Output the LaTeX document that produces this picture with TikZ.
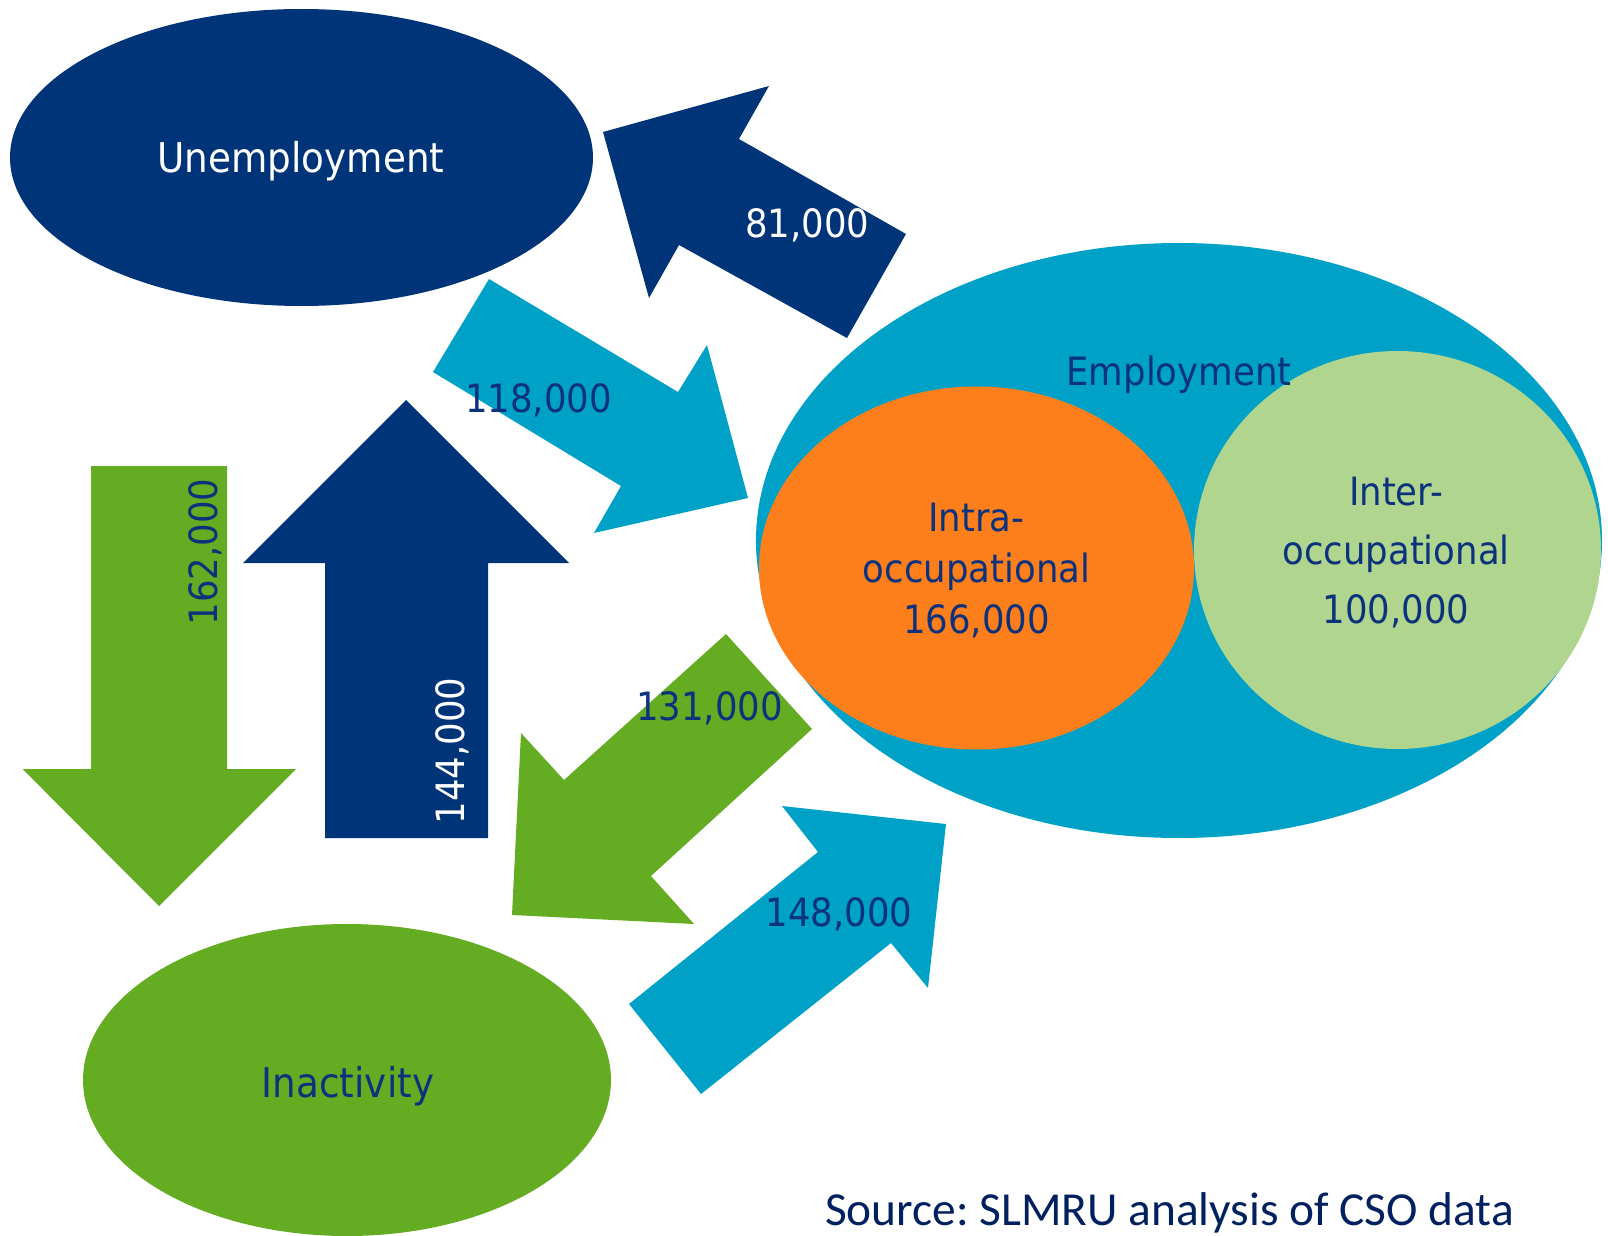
\documentclass[tikz,border=0pt]{standalone}
\usepackage{fontspec}
\usetikzlibrary{shapes.geometric}
\newfontfamily\lab[FakeStretch=0.91]{DejaVu Sans}
\newfontfamily\srcfont{Carlito}
\definecolor{cnavy}{RGB}{0,52,120}
\definecolor{cteal}{RGB}{0,161,199}
\definecolor{cleaf}{RGB}{100,172,33}
\definecolor{corng}{RGB}{253,127,27}
\definecolor{cpale}{RGB}{176,213,143}
\definecolor{ctxt}{RGB}{12,50,125}
\definecolor{csrc}{RGB}{0,32,96}
\frenchspacing
\begin{document}
\begin{tikzpicture}[x=0.5pt,y=-0.5pt,
  blob/.style={ellipse, inner sep=0pt, draw=none},
  lbl/.style={font=\lab\fontsize{19.5pt}{24pt}\selectfont, inner sep=0pt, anchor=base, text=ctxt},
  big/.style={font=\lab\fontsize{20.5pt}{24pt}\selectfont, inner sep=0pt, anchor=base, text=ctxt}]
\useasboundingbox (0,0) rectangle (1608,1236);
% ellipses
\node[blob, fill=cnavy, minimum width=291.5pt, minimum height=148.5pt] (unemp) at (301.5,157.5) {};
\node[blob, fill=cleaf, minimum width=264pt, minimum height=156pt] (inact) at (347,1080) {};
\node[blob, fill=cteal, minimum width=423pt, minimum height=297.5pt] (emp) at (1179,540.5) {};
\node[blob, fill=corng, minimum width=217.5pt, minimum height=181.5pt] (intra) at (976.5,568) {};
\node[blob, fill=cpale, minimum width=203.5pt, minimum height=199pt] (inter) at (1397.5,550) {};
% arrows
\fill[cnavy] (603,132) -- (769,86) -- (739,139) -- (906,234) -- (847,338) -- (679,245) -- (649,298) -- cycle;
\fill[cteal] (489,279) -- (678,392) -- (707,345) -- (748,498) -- (594,533) -- (621,486) -- (433,372) -- cycle;
\fill[cleaf] (91,466) -- (227,466) -- (227,769) -- (296,769) -- (159,906) -- (22.6,769) -- (91,769) -- cycle;
\fill[cnavy] (406,400) -- (569,563) -- (488,563) -- (488,838) -- (325,838) -- (325,563) -- (243,563) -- cycle;
\fill[cleaf] (726,634) -- (812,729) -- (651,876) -- (694,924) -- (512,915) -- (521,733) -- (564,780) -- cycle;
\fill[cteal] (629,1004) -- (818,852) -- (782,806) -- (946,824) -- (928,988) -- (891,943) -- (701,1094) -- cycle;
% labels
\node[big, text=white] (tunemp) at (301,173) {Unemployment};
\node[big] (tinact) at (348,1097) {Inactivity};
\node[lbl] (temp) at (1179,385) {Employment};
\node[lbl, anchor=center, align=center, font=\lab\fontsize{19.5pt}{25.5pt}\selectfont] (tintra) at (976.5,571) {Intra-\\occupational\\166,000};
\node[lbl, anchor=center, align=center, font=\lab\fontsize{19.5pt}{29.5pt}\selectfont] (tinter) at (1396,553) {Inter-\\occupational\\100,000};
\node[lbl, text=white] (t81) at (807.5,237) {81,000};
\node[lbl] (t118) at (538.5,412) {118,000};
\node[lbl] (t131) at (709.5,720) {131,000};
\node[lbl] (t148) at (839,926) {148,000};
\node[lbl, rotate=90] (t162) at (217,552) {162,000};
\node[lbl, rotate=90, text=white] (t144) at (464,751) {144,000};
\node[font=\srcfont\fontsize{23.7pt}{28pt}\selectfont, text=csrc, inner sep=0pt, anchor=base] (src) at (1169.5,1225) {Source: SLMRU analysis of CSO data};
\end{tikzpicture}
\end{document}
